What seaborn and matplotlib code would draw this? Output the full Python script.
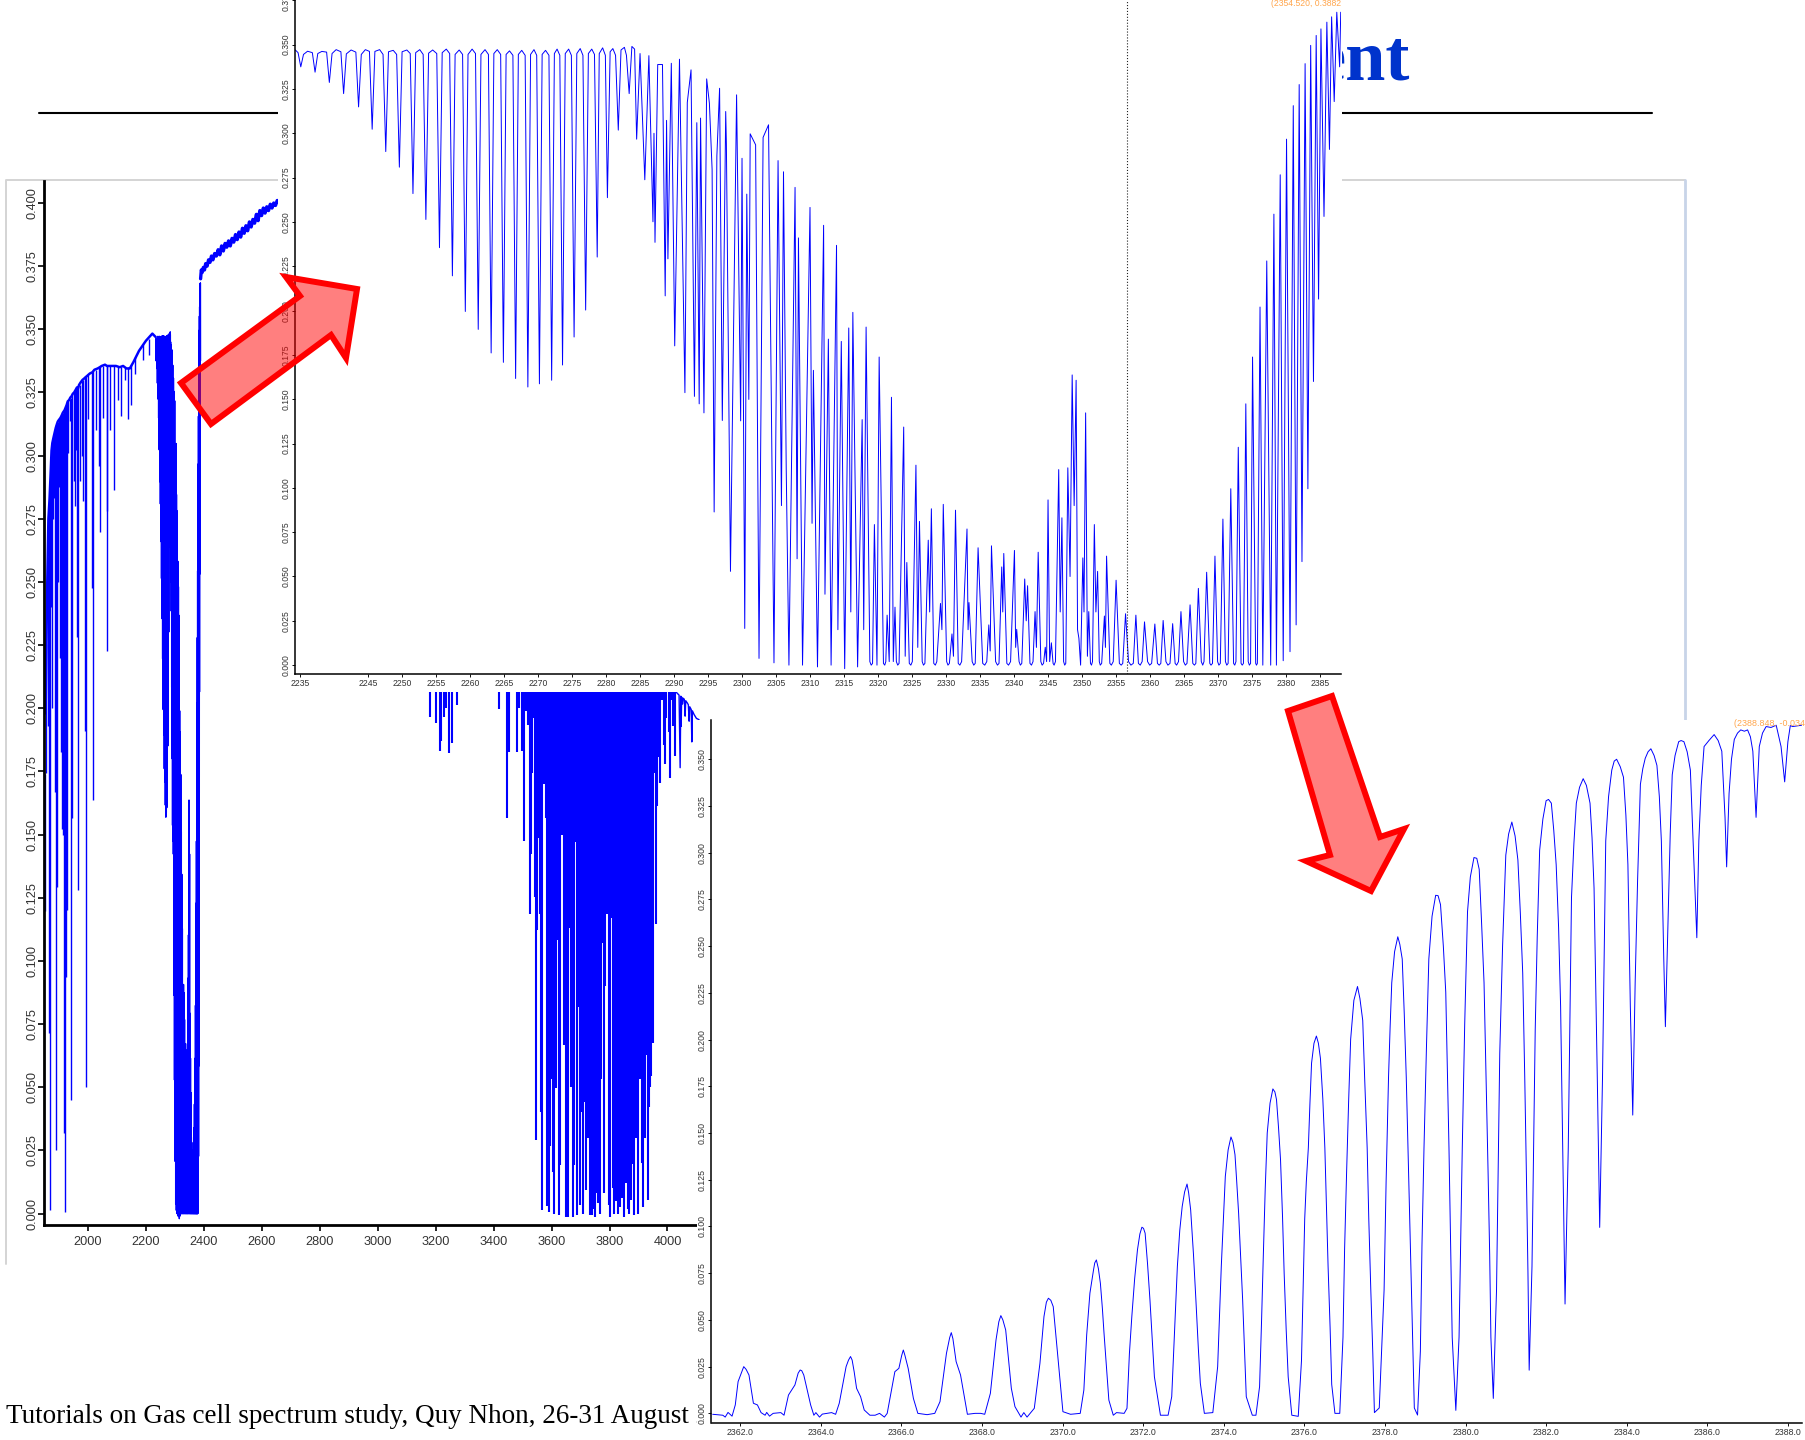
"""Gas cell spectrum slide: full spectrum with two zoomed insets."""

import matplotlib.pyplot as plt
import numpy as np
import pandas as pd
import seaborn as sns
from matplotlib.lines import Line2D
from matplotlib.patches import Polygon, Rectangle

W, H = 1806, 1440

# ---- middle inset: crests and dips of the CO2 band
mid_crest_x = [2234.3, 2234.7, 2235.5, 2236.1, 2236.8, 2237.6, 2238.2, 2238.9, 2239.7, 2240.3, 2241.0, 2241.8,
               2242.5, 2243.2, 2244.0, 2244.6, 2245.2, 2246.0, 2246.7, 2247.2, 2248.0, 2248.7, 2249.2, 2250.0,
               2250.7, 2251.2, 2252.0, 2252.6, 2253.1, 2253.9, 2254.5, 2255.1, 2255.9, 2256.5, 2257.0, 2257.8,
               2258.4, 2258.9, 2259.7, 2260.3, 2260.8, 2261.6, 2262.2, 2262.7, 2263.5, 2264.0, 2264.5, 2265.3,
               2265.8, 2266.3, 2267.1, 2267.6, 2268.1, 2268.9, 2269.4, 2269.8, 2270.6, 2271.1, 2271.6, 2272.4,
               2272.8, 2273.2, 2274.0, 2274.5, 2274.9, 2275.7, 2276.2, 2276.6, 2277.4, 2277.9, 2278.3, 2279.0,
               2279.5, 2279.9, 2280.6, 2281.0, 2281.4, 2282.2, 2282.7, 2283.0, 2283.8, 2284.2, 2285.0, 2286.3,
               2287.05, 2287.6, 2288.3, 2288.9, 2289.6, 2290.8, 2291.95, 2292.5, 2293.35, 2293.9, 2294.8, 2295.2,
               2295.6, 2296.3, 2296.7, 2297.6, 2297.7, 2299.2, 2300.0, 2300.7, 2301.2, 2302.0, 2303.1, 2303.9,
               2305.3, 2306.1, 2306.5, 2307.8, 2308.3, 2310.0, 2310.5, 2312.0, 2312.7, 2313.9, 2314.6, 2315.7,
               2316.3, 2317.67, 2318.25, 2319.47, 2320.17, 2321.34, 2321.98, 2322.5, 2323.78, 2324.24, 2325.58,
               2326.1, 2327.39, 2327.85, 2329.19, 2329.6, 2330.88, 2331.4, 2333.09, 2333.38, 2334.72, 2336.3,
               2336.69, 2338.2, 2338.5, 2340.07, 2340.4, 2341.58, 2342.0, 2343.1, 2343.56, 2344.6, 2345.01,
               2345.5, 2346.58, 2347.05, 2347.92, 2348.56, 2349.14, 2349.55, 2350.13, 2350.54, 2351.0, 2351.82,
               2352.3, 2353.3, 2353.62, 2355.02, 2356.41, 2357.93, 2359.2, 2360.72, 2361.94, 2363.34, 2364.56,
               2365.9, 2367.12, 2368.34, 2369.56, 2370.73, 2371.89, 2372.99, 2374.1, 2375.09, 2376.19, 2377.18,
               2378.23, 2379.16, 2380.09, 2381.08, 2381.95, 2382.82, 2383.64, 2384.45, 2385.15, 2386.02, 2386.72,
               2387.48, 2388.06]
mid_crest_y = [.3470, .3455, .3445, .3463, .3455, .3450, .3462, .3458, .3450, .3472, .3460, .3448,
               .3470, .3458, .3445, .3472, .3462, .3462, .3472, .3445, .3460, .3468, .3445, .3460,
               .3470, .3450, .3455, .3472, .3445, .3452, .3470, .3450, .3455, .3475, .3450, .3445,
               .3470, .3445, .3445, .3475, .3450, .3445, .3472, .3445, .3450, .3472, .3445, .3445,
               .3465, .3440, .3445, .3468, .3440, .3445, .3472, .3440, .3445, .3468, .3440, .3450,
               .3475, .3440, .3450, .3475, .3440, .3450, .3478, .3440, .3450, .3475, .3445, .3450,
               .3482, .3440, .3460, .3478, .3440, .3470, .3485, .3440, .3490, .3475, .3450, .3438,
               .3000, .3388, .3388, .3073, .3395, .3418, .3174, .3358, .3060, .3086, .3307, .3170,
               .2796, .2872, .3254, .3123, .2940, .3217, .2859, .2657, .2997, .2935, .2977, .3048,
               .2846, .2783, .1108, .2695, .2410, .2582, .1663, .2481, .1839, .2368, .1826, .1902,
               .1990, .1385, .1907, .0793, .1738, .0282, .1511, .0327, .1343, .0579, .1128,
               .0811, .0705, .0882, .0348, .0907, .0176, .0874, .0768, .0353, .0662, .0227,
               .0673, .0554, .0630, .0647, .0202, .0486, .0448, .0302, .0637, .0101, .0932,
               .0126, .1103, .0831, .1113, .1637, .1607, .0151, .0605, .1423, .0302, .0793,
               .0529, .0277, .0615, .0479, .0290, .0282, .0244, .0232, .0252, .0234, .0302,
               .0340, .0433, .0524, .0615, .0824, .0995, .1229, .1474, .1738, .2020, .2280,
               .2544, .2766, .2967, .3156, .3275, .3393, .3496, .3552, .3589, .3627, .3657,
               .3683, .3683]
mid_dip_x = [2235.1, 2237.2, 2239.3, 2241.4, 2243.6, 2245.6, 2247.6, 2249.6, 2251.6, 2253.5, 2255.5, 2257.4,
             2259.3, 2261.2, 2263.1, 2264.9, 2266.7, 2268.5, 2270.2, 2272.0, 2273.6, 2275.3, 2277.0, 2278.7,
             2280.2, 2281.8, 2283.4, 2284.5, 2285.7, 2286.9, 2287.2, 2288.7, 2289.1, 2290.1, 2291.6, 2293.0,
             2293.7, 2294.4, 2295.9, 2297.1, 2298.3, 2299.8, 2300.4, 2301.0, 2302.5, 2304.7, 2305.8, 2306.9,
             2308.1, 2308.9, 2310.3, 2311.1, 2312.2, 2313.1, 2314.1, 2315.1, 2316.0, 2317.0, 2317.9, 2319.0,
             2319.85, 2320.99, 2321.65, 2322.25, 2322.9, 2324.0, 2324.83, 2325.85, 2326.69, 2327.6, 2328.43,
             2329.4, 2330.29, 2331.1, 2332.04, 2333.25, 2334.08, 2335.7, 2336.5, 2337.57, 2338.35, 2339.2,
             2340.25, 2340.94, 2341.8, 2342.57, 2343.3, 2344.14, 2344.8, 2345.25, 2345.9, 2346.8, 2347.46,
             2348.25, 2348.85, 2349.35, 2349.8, 2350.3, 2350.8, 2351.4, 2352.05, 2352.69, 2353.45, 2354.32,
             2355.77, 2357.2, 2358.57, 2359.96, 2361.36, 2362.64, 2363.92, 2365.2, 2366.54, 2367.76, 2368.98,
             2370.14, 2371.3, 2372.47, 2373.57, 2374.62, 2375.67, 2376.6, 2377.76, 2378.6, 2379.6, 2380.6,
             2381.5, 2382.36, 2383.23, 2384.05, 2384.8, 2385.6, 2386.4, 2387.1, 2387.9]
mid_dip_y = [.3375, .3345, .3287, .3224, .3149, .3023, .2897, .2809, .2660, .2514, .2355, .2196,
             .1995, .1894, .1761, .1708, .1617, .1569, .1587, .1607, .1693, .1851, .2003, .2302,
             .2637, .3018, .3224, .2967, .2738, .2501, .2385, .2083, .2292, .1801, .1537, .1516,
             .1474, .1423, .0864, .1380, .0529, .1378, .0207, .1499, .0038, .0013, .0900, .0000,
             .0600, .0000, .0800, -.0010, .0400, .0000, .0200, -.0020, .0300, -.0010, .0200, .0000,
             .0000, .0000, .0020, .0020, .0000, .0050, .0000, .0100, .0000, .0300, .0000,
             .0200, .0000, .0050, .0000, .0200, .0000, .0000, .0080, .0000, .0300, .0000,
             .0100, .0000, .0250, .0000, .0100, .0000, .0020, .0020, .0000, .0300, .0000,
             .0500, .0900, .0200, .0000, .0300, .0050, .0000, .0300, .0000, .0100, .0000,
             .0000, .0000, .0000, .0000, .0000, .0000, .0000, .0000, .0000, .0000, .0000,
             .0000, .0000, .0000, .0000, .0000, .0000, .0000, .0000, .0000, .0025, .0076,
             .0227, .0584, .0995, .1600, .2065, .2531, .2909, .3179, .3375]
# flat floor either side of the saturated lines
mid_floor_x = [2318.8, 2319.2, 2320.8, 2321.15, 2322.7, 2323.1, 2324.6, 2325.05, 2326.5, 2326.9, 2328.2, 2328.65,
               2330.1, 2330.5, 2331.8, 2332.3, 2333.85, 2334.3, 2335.4, 2336.0, 2337.3, 2337.8, 2338.95, 2339.5,
               2340.75, 2341.15, 2342.35, 2342.8, 2343.95, 2344.35, 2345.75, 2346.1, 2347.3, 2347.62, 2351.25, 2351.55,
               2352.55, 2352.9, 2354.1, 2354.6, 2355.5, 2356.0, 2356.85, 2357.55, 2358.3, 2358.85, 2359.65, 2360.25,
               2361.1, 2361.6, 2362.35, 2362.95, 2363.7, 2364.2, 2364.95, 2365.45, 2366.3, 2366.75, 2367.55, 2367.95,
               2368.8, 2369.2, 2369.95, 2370.35, 2371.1, 2371.5, 2372.3, 2372.65, 2373.4, 2373.75, 2374.45, 2374.8,
               2375.55, 2375.8]
mid_floor_y = [.002, .001, .001, .002, .002, .001, .001, .002, .002, .001, .001, .002,
               .002, .001, .001, .002, .002, .001, .001, .002, .002, .001, .001, .002,
               .002, .001, .001, .002, .002, .001, .001, .002, .002, .001, .001, .002,
               .002, .001, .001, .002, .001, .001, .002, .001, .001, .002, .002, .001,
               .001, .001, .002, .001, .001, .002, .002, .001, .001, .001, .002, .002,
               .001, .001, .002, .001, .002, .001, .001, .002, .001, .001, .002, .001,
               .001, .001]
mid_xticks = [2235, 2245, 2250, 2255, 2260, 2265, 2270, 2275, 2280, 2285, 2290, 2295, 2300, 2305, 2310, 2315,
              2320, 2325, 2330, 2335, 2340, 2345, 2350, 2355, 2360, 2365, 2370, 2375, 2380, 2385]
mid_yticks = [0, .025, .05, .075, .1, .125, .15, .175, .2, .225, .25, .275, .3, .325, .35, .375]

# ---- left chart: envelope and lines on the low wavenumber side
left_crest_x = [1853.5, 1858.5, 1863.2, 1867.2, 1870.5, 1874, 1876.8, 1880.5, 1884.5, 1888.6, 1892.6, 1895.6, 1898.5,
                1901.8, 1905, 1909.3, 1913, 1916, 1919, 1922.5, 1926, 1930, 1934.6, 1939, 1943, 1947.5, 1952, 1957,
                1961.7, 1965, 1969, 1974.5, 1981, 1986.4, 1991, 1996.2, 2006, 2015, 2022, 2033, 2040.5, 2047, 2058.5,
                2065.3, 2071, 2083, 2096.5, 2109, 2121, 2132.7, 2144, 2156.5, 2176, 2200, 2222, 2233]
left_crest_y = [.198, .245, .275, .283, .292, .302, .305, .307, .309, .311, .3125, .3135, .314,
                .3145, .315, .316, .317, .3175, .318, .319, .32, .3215, .322, .323, .3235, .3245, .325, .326,
                .327, .3265, .328, .329, .33, .3305, .331, .3315, .3325, .333, .334, .3345, .335, .3355, .336,
                .3355, .3355, .3355, .3355, .335, .3355, .3345, .3345, .337, .3415, .3455, .3483, .347]
left_dip_x = [1851.7, 1856.3, 1860.9, 1865.5, 1869, 1872.5, 1875.3, 1878.2, 1882.8, 1886.3, 1890.9, 1894.3, 1897,
              1900.1, 1903.5, 1907, 1911.6, 1914.5, 1917.4, 1920.8, 1924.3, 1928, 1932.3, 1936.9, 1941.5, 1945,
              1950, 1954.2, 1960, 1963.4, 1966.9, 1971, 1978, 1984.1, 1988.7, 1993.3, 1999.1, 2012.9, 2017.5, 2026,
              2039.4, 2041.7, 2052, 2064.7, 2065.9, 2076, 2090, 2103, 2115.4, 2127, 2138.4, 2150, 2163, 2190, 2210]
left_dip_y = [.1198, .1742, .1931, .0716, .0014, .24, .2, .2748, .2832, .1669, .0251, .1292, .25,
              .2874, .22, .1827, .1522, .15, .0318, .0008, .0936, .12, .3011, .3136, .0448, .1564,
              .29, .2801, .3021, .2282, .1281, .29, .3, .2822, .191, .05, .3146, .2476, .1638, .31,
              .2958, .2696, .315, .2225, .278, .31, .2864, .322, .3157, .33, .3147, .32, .3325, .338, .34]
left_dip_top = [.174, .2256, .26, .28, .288, .298, .304, .306, .308, .31, .312, .313, .3135,
                .3145, .315, .3155, .3165, .317, .3178, .3185, .3195, .3205, .3215, .3224, .323, .324,
                .325, .3255, .3265, .327, .3275, .328, .3295, .33, .331, .3315, .332, .333, .3335, .334,
                .335, .335, .3355, .3355, .3355, .3355, .3355, .335, .335, .335, .335, .336, .339, .344, .346]
# rising edge after the band, a noisy plateau
left_rise_x = [2388.5, 2391, 2394, 2398, 2402, 2406, 2411, 2416, 2421, 2426, 2431, 2437, 2443, 2449, 2455, 2461, 2467,
               2473, 2479, 2485, 2491, 2497, 2503, 2509, 2515, 2521, 2527, 2533, 2539, 2545, 2551, 2557, 2563, 2569,
               2575, 2581, 2587, 2593, 2599, 2605, 2611, 2617, 2623, 2629, 2635, 2641, 2647, 2653, 2660]
left_rise_y = [.3700, .3735, .3725, .3745, .3735, .376, .375, .3775, .3765, .379, .3775, .38, .379, .3815, .3795, .383,
               .381, .384, .3825, .385, .383, .386, .3845, .3875, .3855, .3885, .3865, .39, .388, .391, .389, .3925,
               .3905, .3935, .392, .3955, .393, .397, .395, .398, .396, .3985, .397, .3995, .398, .4, .399, .401, .4]
# absorption lines above 3100 cm-1, only the part under the inset shows
left_line_x = [3178.8, 3201, 3214, 3220, 3228, 3236, 3247, 3256, 3275, 3420, 3447, 3452, 3481.8, 3486, 3499.1, 3503.7,
               3510.6, 3517.5, 3524.4, 3527.8, 3533.6, 3535.9, 3542.8, 3547.4, 3549.7, 3554.3, 3558.9, 3563.5, 3567,
               3571.6, 3575.5, 3579.7, 3585.4, 3591.2, 3593.5, 3596.9, 3600.4, 3606.1, 3609.6, 3614.2, 3621.1, 3625.7,
               3630.3, 3634.9, 3639.5, 3643, 3651, 3656.8, 3663.7, 3668, 3672.9, 3677.5, 3681, 3686.7, 3693.6, 3698.2,
               3702.9, 3708.6, 3715.5, 3720.1, 3727, 3731.6, 3736, 3740.9, 3745, 3748.9, 3754.7, 3760.4, 3766.2, 3770.8,
               3775.4, 3780, 3784.6, 3786.9, 3791.5, 3798.4, 3803, 3808.8, 3813, 3816.8, 3821, 3824.9, 3830.7, 3836.4,
               3842.2, 3846.8, 3851.4, 3856, 3862.9, 3868.7, 3875.6, 3880.2, 3885.9, 3890, 3894, 3899.7, 3906.7, 3911,
               3915.9, 3922.8, 3928.5, 3933.1, 3937.7, 3941, 3944.7, 3949.3, 3955, 3959.6, 3965.4, 3971.1, 3974.6,
               3980.3, 3987.3, 3990.7, 3996.5, 4004.5, 4009.1, 4013.7, 4018.3, 4025.2]
left_line_y = [.1967, .1943, .183, .187, .1967, .2, .1823, .1864, .2013, .1999, .1565, .1827, .1826, .2, .1833, .1475,
               .199, .1935, .1186, .1424, .1745, .1963, .1254, .0293, .1124, .1486, .1186, .0402, .0016,
               .1785, .17, .1567, .0031, .0007, .0266, .0532, .094, .0164, 0, .0497, .1084, -.0007,
               .0191, .1499, .1663, .0668, -.0014, -.0014, .1131, .05, -.0014, .0191, .1472, -.0007, .0818, .0034,
               .0402, 0, .0443, .0095, .03, -.0007, .002, -.0007, .002, -.0014, .0082, .0041, 0, .0532,
               .107, .0082, .09, .1676, .1186, .0034, -.0014, .1172, .01, 0, .005, .0068, 0, .0027,
               .0061, .109, -.0014, .0123, .002, 0, .0055, .0198, -.0007, .03, .0643, 0, .0532, .02,
               .0027, .03, .0627, .0055, .0423, .05, .0545, .0675, .1745, .1145, .1615, .1806, .1704,
               .2031, .1854, .1779, .1963, .1908, .1724, .2031, .1929, .1813]
left_tail_x = [4030, 4034.5, 4037, 4040, 4043.7, 4046, 4047.1, 4049, 4051.7, 4054, 4058, 4060.9, 4063, 4068, 4072, 4074.8,
               4077, 4082, 4084, 4086, 4092, 4100, 4109]
left_tail_y = [.2065, .2058, .2056, .2052, .1765, .2048, .1929, .2044, .2017, .204, .2036, .1969, .203, .2022, .2014,
               .1949, .2006, .1995, .1867, .199, .1975, .196, .1955]
left_xticks = [2000, 2200, 2400, 2600, 2800, 3000, 3200, 3400, 3600, 3800, 4000]
left_yticks = [0, .025, .05, .075, .1, .125, .15, .175, .2, .225, .25, .275, .3, .325, .35, .375, .4]

# ---- lower right inset: read point by point
low_x = [2361.32, 2361.57, 2361.63, 2361.70, 2361.80, 2361.88, 2361.95, 2362.09, 2362.22, 2362.33, 2362.43, 2362.52,
         2362.62, 2362.66, 2362.73, 2362.82, 2363.01, 2363.09, 2363.20, 2363.36, 2363.49, 2363.58, 2363.75, 2363.83,
         2363.88, 2363.97, 2364.04, 2364.27, 2364.37, 2364.46, 2364.63, 2364.74, 2364.83, 2364.89, 2364.99, 2365.08,
         2365.22, 2365.35, 2365.46, 2365.58, 2365.65, 2365.84, 2365.94, 2366.05, 2366.17, 2366.30, 2366.41, 2366.64,
         2366.83, 2366.96, 2367.12, 2367.24, 2367.36, 2367.47, 2367.64, 2367.83, 2367.97, 2368.07, 2368.21, 2368.35,
         2368.47, 2368.59, 2368.73, 2368.82, 2368.97, 2369.04, 2369.12, 2369.30, 2369.44, 2369.54, 2369.65, 2369.77,
         2369.90, 2370.01, 2370.20, 2370.44, 2370.53, 2370.68, 2370.77, 2370.84, 2370.94, 2371.03, 2371.15, 2371.26,
         2371.34, 2371.53, 2371.60, 2371.72, 2371.86, 2371.97, 2372.05, 2372.17, 2372.28, 2372.43, 2372.62, 2372.71,
         2372.85, 2372.97, 2373.09, 2373.18, 2373.31, 2373.42, 2373.52, 2373.73, 2373.85, 2373.94, 2374.04, 2374.18,
         2374.28, 2374.37, 2374.47, 2374.56, 2374.71, 2374.80, 2374.89, 2374.98, 2375.08, 2375.22, 2375.31, 2375.41,
         2375.50, 2375.60, 2375.69, 2375.85, 2375.93, 2376.01, 2376.10, 2376.18, 2376.30, 2376.40, 2376.51, 2376.59,
         2376.68, 2376.76, 2376.88, 2376.96, 2377.05, 2377.15, 2377.32, 2377.45, 2377.56, 2377.65, 2377.74, 2377.86,
         2377.98, 2378.09, 2378.17, 2378.32, 2378.43, 2378.53, 2378.63, 2378.73, 2378.81, 2378.88, 2378.97, 2379.09,
         2379.26, 2379.38, 2379.51, 2379.59, 2379.67, 2379.76, 2379.84, 2379.92, 2380.05, 2380.21, 2380.34, 2380.46,
         2380.56, 2380.63, 2380.69, 2380.77, 2380.85, 2381.0, 2381.15, 2381.30, 2381.42, 2381.51, 2381.58, 2381.65,
         2381.73, 2381.84, 2382.0, 2382.13, 2382.25, 2382.36, 2382.42, 2382.47, 2382.55, 2382.63, 2382.75, 2382.92,
         2383.09, 2383.19, 2383.27, 2383.33, 2383.40, 2383.48, 2383.63, 2383.75, 2383.92, 2384.03, 2384.09, 2384.15,
         2384.21, 2384.34, 2384.46, 2384.60, 2384.75, 2384.86, 2384.92, 2384.96, 2385.03, 2385.13, 2385.29, 2385.42,
         2385.58, 2385.67, 2385.74, 2385.79, 2385.92, 2386.17, 2386.36, 2386.44, 2386.48, 2386.54, 2386.67, 2386.83,
         2387.0, 2387.13, 2387.21, 2387.29, 2387.46, 2387.71, 2387.83, 2387.92, 2388.0, 2388.12, 2388.34]
low_y = [-.0005, -.001, -.002, .0005, -.0015, .0045, .017, .025, .0205, .0054, .0045, .0004,
         -.001, .0005, -.0015, 0, .0004, -.001, .0098, .0152, .0232, .0205, .0045, -.001,
         .0004, -.002, -.0004, .0004, -.0005, .0054, .025, .0304, .0223, .0134, .0089, .0018,
         -.001, -.001, 0, -.002, 0, .0223, .0241, .0339, .0241, .008, 0, -.0007,
         0, .00625, .0321, .0432, .0277, .0205, -.0005, 0, 0, -.0005, .0107, .0393,
         .0523, .0446, .0134, .0036, -.002, .0004, -.002, .0027, .0268, .0518, .0616, .0571,
         .0268, .0009, -.0005, 0, .0125, .0643, .0768, .0821, .0696, .0429, .0071, -.001,
         .0004, 0, .0027, .0518, .0875, .0996, .0964, .0607, .0196, -.001, -.001, .0089,
         .0786, .1107, .1227, .1089, .0607, .0161, 0, .0004, .025, .0786, .1268, .1479,
         .1384, .1071, .0607, .0089, -.001, -.001, .0143, .0821, .15, .1736, .1679, .1357,
         .075, .0196, -.001, -.0016, .0282, .104, .142, .1874, .2019, .19, .142, .0787,
         .0155, 0, 0, .0408, .1293, .2001, .2284, .2102, .142, .0661, .0004, .0029,
         .0661, .1799, .2304, .255, .2431, .1799, .0914, .0029, -.0009, .0332, .142, .2431,
         .2772, .2722, .2254, .142, .0408, .0016, .0408, .142, .2684, .2974, .2911, .2304,
         .1293, .0408, .008, .0661, .1925, .2987, .3164, .2961, .2355, .1293, .0231, .0787,
         .2052, .3013, .3278, .3265, .2936, .2178, .1293, .0585, .142, .2759, .3265, .3396,
         .3265, .281, .1799, .0995, .1799, .3063, .3442, .35, .3404, .2936, .2178, .1596,
         .2304, .3366, .3505, .3556, .3467, .3063, .2431, .2069, .2684, .3417, .3594, .3594,
         .3442, .2936, .2545, .3063, .3568, .3632, .3543, .3189, .2924, .3316, .3606, .3657,
         .3657, .3543, .3189, .3568, .3675, .3682, .3568, .3379, .3594, .3675, .3682]
# extra readings on the flanks and rounded tops of the peaks
low_cap_x = [2362.15, 2363.44, 2363.53, 2364.69, 2364.78, 2366.01, 2366.09, 2367.2, 2367.28, 2368.42, 2368.52, 2369.6,
             2369.71, 2370.6, 2370.8, 2370.89, 2370.99, 2371.66, 2371.79, 2371.92, 2372.01, 2372.11, 2372.23, 2372.78,
             2372.91, 2373.03, 2373.13, 2373.25, 2373.37, 2373.9, 2373.99, 2374.11, 2374.23, 2374.32, 2374.42, 2374.52,
             2374.94, 2375.03, 2375.15, 2375.27, 2375.36, 2375.46, 2375.55, 2376.05, 2376.14, 2376.24, 2376.35, 2376.46,
             2376.55, 2376.64, 2377.0, 2377.1, 2377.23, 2377.38, 2377.5, 2377.6, 2377.7, 2378.03, 2378.13, 2378.24,
             2378.37, 2378.48, 2378.58, 2378.68, 2378.92, 2379.03, 2379.17, 2379.32, 2379.45, 2379.55, 2379.63, 2379.88,
             2379.98, 2380.12, 2380.28, 2380.4, 2380.51, 2380.6, 2380.81, 2380.92, 2381.07, 2381.23, 2381.36, 2381.47,
             2381.55, 2381.69, 2381.78, 2381.92, 2382.06, 2382.19, 2382.31, 2382.39, 2382.59, 2382.69, 2382.83, 2383.0,
             2383.14, 2383.23, 2383.3, 2383.44, 2383.55, 2383.69, 2383.84, 2383.98, 2384.06, 2384.18, 2384.27, 2384.4,
             2384.53, 2384.68, 2384.81, 2385.08, 2385.2, 2385.35, 2385.5, 2385.85, 2386.04, 2386.27, 2386.6, 2386.75,
             2386.92, 2387.07, 2387.37, 2387.58, 2388.06]
low_cap_y = [.0235, .0215, .0228, .0285, .0285, .031, .031, .0405, .04, .049, .05, .0595,
             .0605, .042, .0805, .0775, .056, .032, .072, .096, .099, .08, .038, .044,
             .098, .1185, .118, .085, .035, .055, .103, .141, .145, .125, .084, .032,
             .05, .12, .166, .172, .153, .105, .045, .124, .166, .198, .198, .168,
             .11, .046, .088, .167, .221, .222, .178, .104, .032, .124, .207, .247,
             .251, .214, .136, .046, .09, .195, .266, .277, .25, .184, .09, .09,
             .208, .287, .297, .262, .18, .085, .13, .25, .31, .309, .268, .18,
             .075, .142, .255, .318, .3285, .312, .26, .175, .21, .305, .335, .336,
             .308, .232, .14, .243, .33, .349, .346, .32, .255, .195, .285, .345,
             .354, .352, .33, .31, .352, .36, .354, .336, .36, .36, .35, .364,
             .365, .362, .364, .367, .368]
low_xticks = [2362, 2364, 2366, 2368, 2370, 2372, 2374, 2376, 2378, 2380, 2382, 2384, 2386, 2388]
low_yticks = [0, .025, .05, .075, .1, .125, .15, .175, .2, .225, .25, .275, .3, .325, .35]

BLUE = '#0000FF'
TICK_GREY = '#333333'

sns.set_style("ticks")
plt.rcParams['font.family'] = ['Liberation Sans', 'DejaVu Sans']

fig = plt.figure(figsize=(W / 100, H / 100), dpi=100, facecolor='white')


def add_axes_px(left, top, right, bottom, z):
    """Axes from pixel edges, origin at the top left of the slide."""
    ax = fig.add_axes([left / W, 1 - bottom / H, (right - left) / W, (bottom - top) / H], zorder=z)
    ax.set_facecolor('none')
    return ax


def add_box_px(left, top, right, bottom, z):
    fig.add_artist(Rectangle((left / W, 1 - bottom / H), (right - left) / W, (bottom - top) / H,
                             transform=fig.transFigure, facecolor='white', edgecolor='none', zorder=z))


def add_line_px(xs, ys, color, width, z=1):
    fig.add_artist(Line2D([x / W for x in xs], [1 - y / H for y in ys], transform=fig.transFigure,
                          color=color, lw=width, zorder=z))


def add_arrow_px(points):
    fig.add_artist(Polygon([(x / W, 1 - y / H) for x, y in points], closed=True, transform=fig.transFigure,
                           facecolor=(1, 0, 0, 0.5), edgecolor='red', lw=4.3, joinstyle='miter', zorder=10))


def style_axes(ax, xticks, yticks, xfmt, size, spine_w, tick_len, xpad=1.5, ypad=1.5):
    sns.despine(ax=ax)
    for side in ('left', 'bottom'):
        ax.spines[side].set_linewidth(spine_w)
        ax.spines[side].set_color('black')
    ax.set_xticks(xticks)
    ax.set_xticklabels([xfmt.format(t) for t in xticks])
    ax.set_yticks(yticks)
    ax.set_yticklabels([f'{t:.3f}' for t in yticks], rotation=90, va='center')
    ax.tick_params(axis='both', labelsize=size, length=tick_len, width=spine_w * 0.6,
                   colors='black', labelcolor=TICK_GREY)
    ax.tick_params(axis='x', pad=xpad)
    ax.tick_params(axis='y', pad=ypad)
    ax.set_xlabel('')
    ax.set_ylabel('')


# background of the slide
fig.text(1410 / W, 1 - 79 / H, 'ent', color='#0033CC', fontsize=52, fontweight='bold',
         family='Liberation Serif', ha='right', va='baseline', zorder=1)
add_line_px([39, 1652], [113, 113], 'black', 1.5)
add_line_px([6, 6, 1685], [1264, 180, 180], '#D4D4D4', 1.4)
add_line_px([1685, 1685], [180, 720], '#C8D4E8', 2.0)
fig.text(6 / W, 1 - 1423 / H, 'Tutorials on Gas cell spectrum study, Quy Nhon, 26-31 August 2', color='black',
         fontsize=19.5, family='Liberation Serif', ha='left', va='baseline', zorder=1)

# full spectrum
ax_left = add_axes_px(44, 181, 705, 1225, 2)
band_df = pd.DataFrame({'x': mid_crest_x + mid_dip_x, 'y': mid_crest_y + mid_dip_y})
sns.lineplot(data=band_df, x='x', y='y', estimator=None, color=BLUE, lw=1.0, ax=ax_left)
sns.lineplot(x=left_crest_x, y=left_crest_y, estimator=None, color=BLUE, lw=1.8, ax=ax_left)
sns.lineplot(x=left_rise_x, y=left_rise_y, estimator=None, color=BLUE, lw=2.4, ax=ax_left)
sns.lineplot(x=left_tail_x, y=left_tail_y, estimator=None, color=BLUE, lw=1.0, ax=ax_left)
ax_left.vlines(left_dip_x, left_dip_y, left_dip_top, color=BLUE, lw=1.0)
ax_left.vlines(left_line_x, left_line_y, 0.3, color=BLUE, lw=1.5)
ax_left.set_xlim(1848, 4129.5)
ax_left.set_ylim(-0.0045, 0.4087)
style_axes(ax_left, left_xticks, left_yticks, '{:d}', 9.2, 2.0, 4, xpad=4, ypad=0)

# first zoom
add_box_px(278, 0, 1342, 692, 3)
ax_mid = add_axes_px(295, 0, 1341, 674, 4)
mid_df = pd.DataFrame({'x': mid_crest_x + mid_dip_x + mid_floor_x, 'y': mid_crest_y + mid_dip_y + mid_floor_y})
sns.lineplot(data=mid_df, x='x', y='y', estimator=None, color=BLUE, lw=0.7, ax=ax_mid)
ax_mid.axvline(2356.6, color='#222222', ls=':', lw=0.8)
ax_mid.set_xlim(2234.25, 2388.1)
ax_mid.set_ylim(-0.005, 0.3752)
style_axes(ax_mid, mid_xticks, mid_yticks, '{:d}', 6.2, 1.1, 2)
ax_mid.text(1.0, 0.9955, '(2354.520, 0.3882', transform=ax_mid.transAxes, color='#FFA64D', fontsize=6.2,
            ha='right', va='center')

# second zoom
add_box_px(697, 720, W, H, 5)
ax_low = add_axes_px(711.5, 720, 1802, 1422.7, 6)
low_df = pd.DataFrame({'x': low_x + low_cap_x, 'y': low_y + low_cap_y})
sns.lineplot(data=low_df, x='x', y='y', estimator=None, color=BLUE, lw=0.7, ax=ax_low)
ax_low.set_xlim(2361.29, 2388.35)
ax_low.set_ylim(-0.005, 0.371)
style_axes(ax_low, low_xticks, low_yticks, '{:.1f}', 6.3, 1.1, 2)
ax_low.text(1.003, 0.995, '(2388.848, -0.034', transform=ax_low.transAxes, color='#FFA64D', fontsize=6.4,
            ha='right', va='center')

# red arrows pointing from the band to each zoom
add_arrow_px([(181, 383), (300, 296), (286, 277), (357, 289), (346, 358), (331, 335), (211, 424)])
add_arrow_px([(1288, 711), (1332, 696), (1380, 837), (1404, 829), (1371, 891), (1306, 861), (1330, 855)])

fig.savefig('out.png', dpi=100, facecolor='white')
plt.close(fig)
print("Saved out.png")
